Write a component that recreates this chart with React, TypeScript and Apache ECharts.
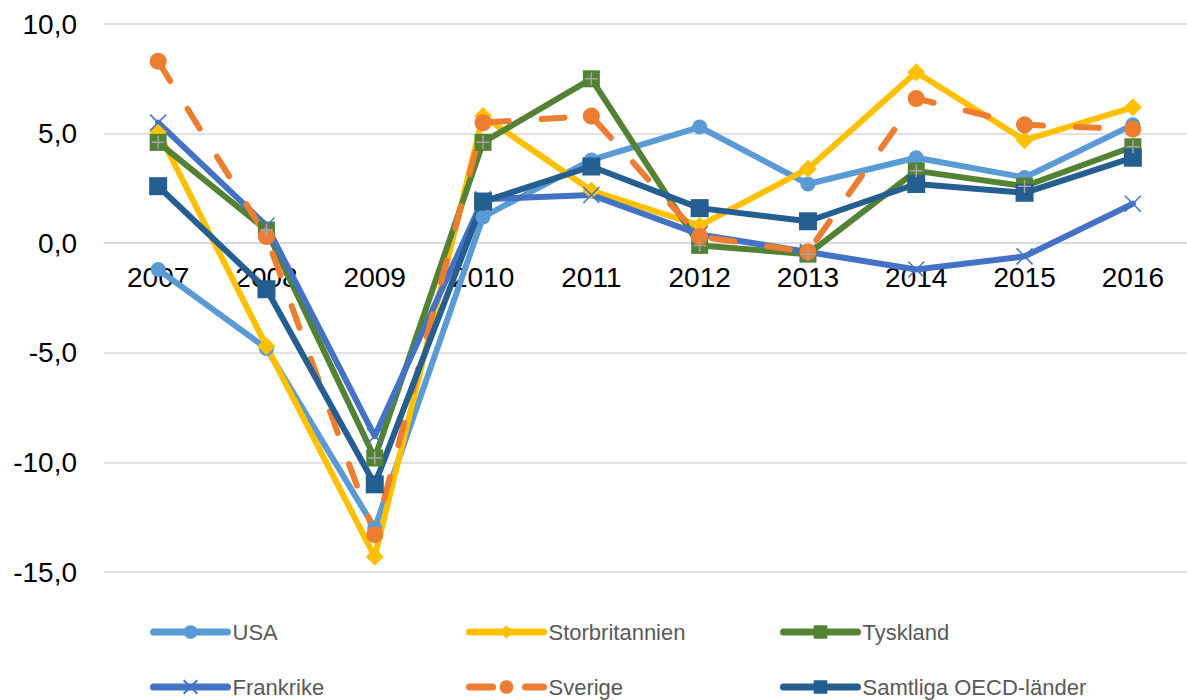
import React, { useEffect, useRef } from "react";
import * as echarts from "echarts";

const years = ["2007", "2008", "2009", "2010", "2011", "2012", "2013", "2014", "2015", "2016"];
const usa = [-1.2, -4.8, -13.0, 1.2, 3.8, 5.3, 2.7, 3.9, 3.0, 5.4];
const storbritannien = [5.1, -4.7, -14.3, 5.8, 2.4, 0.8, 3.4, 7.8, 4.7, 6.2];
const tyskland = [4.6, 0.6, -9.8, 4.6, 7.5, -0.1, -0.5, 3.3, 2.6, 4.4];
const frankrike = [5.5, 0.8, -8.8, 2.0, 2.2, 0.4, -0.4, -1.2, -0.6, 1.8];
const sverige = [8.3, 0.3, -13.3, 5.5, 5.8, 0.3, -0.4, 6.6, 5.4, 5.2];
const samtliga = [2.6, -2.1, -11.0, 1.9, 3.5, 1.6, 1.0, 2.7, 2.3, 3.9];

const yMin = -15;
const yMax = 10;
const yStep = 5;

const FONT = "'Liberation Sans', Arial, sans-serif";

export default function App() {
  const ref = useRef<HTMLDivElement>(null);
  useEffect(() => {
    if (!ref.current) return;
    const chart = echarts.init(ref.current, undefined, { renderer: "svg" });
    const lw = 6;
    const gridTop = 24;
    const gridHeight = 548;
    // pixel distance from the grid bottom up to the zero line
    const zeroOffset = (-yMin / (yMax - yMin)) * gridHeight;
    const mk = (name: string, data: number[], color: string, symbol: string, size: number, extra: any = {}) => ({
      name,
      type: "line",
      data,
      symbol,
      symbolSize: size,
      lineStyle: { color, width: lw, cap: "round", join: "round", ...(extra.lineStyle || {}) },
      itemStyle: { color, ...(extra.itemStyle || {}) },
      emphasis: { disabled: true },
      z: 2,
    });
    const legendItem = (name: string, left: number, top: number) => ({
      left,
      top,
      padding: 0,
      data: [name],
      itemWidth: 74,
      itemHeight: 17,
      itemGap: 5,
      selectedMode: false,
      lineStyle: { width: 7, cap: "round" },
      textStyle: { fontFamily: FONT, fontSize: 22, lineHeight: 22, color: "#595959" },
    });
    chart.setOption({
      animation: false,
      grid: { left: 104, top: gridTop, width: 1092, height: gridHeight, containLabel: false },
      xAxis: {
        type: "category",
        data: years,
        boundaryGap: true,
        position: "bottom",
        offset: -zeroOffset,
        axisLine: { onZero: false, lineStyle: { color: "#d9d9d9", width: 1.5 } },
        axisTick: { show: false },
        axisLabel: { fontFamily: FONT, fontSize: 28, color: "#000", margin: 20 },
        splitLine: { show: false },
      },
      yAxis: {
        type: "value",
        min: yMin,
        max: yMax,
        interval: yStep,
        axisLine: { show: false },
        axisTick: { show: false },
        axisLabel: {
          fontFamily: FONT,
          fontSize: 28,
          color: "#000",
          margin: 27,
          formatter: (v: number) => v.toFixed(1).replace(".", ","),
        },
        splitLine: { lineStyle: { color: "#d9d9d9", width: 1.5 } },
      },
      legend: [
        legendItem("USA", 150, 621),
        legendItem("Storbritannien", 466, 621),
        legendItem("Tyskland", 780, 621),
        legendItem("Frankrike", 150, 676),
        legendItem("Sverige", 466, 676),
        legendItem("Samtliga OECD-länder", 780, 676),
      ],
      series: [
        mk("USA", usa, "#5B9BD5", "circle", 15),
        mk("Storbritannien", storbritannien, "#FFC000", "diamond", 18),
        mk("Tyskland", tyskland, "#548235", "rect", 17),
        {
          name: "TysklandPlus",
          type: "line",
          data: tyskland,
          symbol: "path://M5,0L5,10M0,5L10,5",
          symbolSize: 13,
          lineStyle: { width: 0, opacity: 0 },
          itemStyle: { color: "none", borderColor: "#a5a5a5", borderWidth: 1.5 },
          silent: true,
          emphasis: { disabled: true },
        },
        mk("Frankrike", frankrike, "#4472C4", "path://M0,0L10,10M10,0L0,10", 16, {
          itemStyle: { borderColor: "#4472C4", borderWidth: 1.5 },
        }),
        mk("Sverige", sverige, "#ED7D31", "circle", 17, {
          lineStyle: { type: [23, 33] },
        }),
        mk("Samtliga OECD-länder", samtliga, "#255E91", "rect", 18),
      ],
    });
    return () => chart.dispose();
  }, []);
  return <div ref={ref} style={{ position: "absolute", left: 0, top: 0, width: 1187, height: 700 }} />;
}
